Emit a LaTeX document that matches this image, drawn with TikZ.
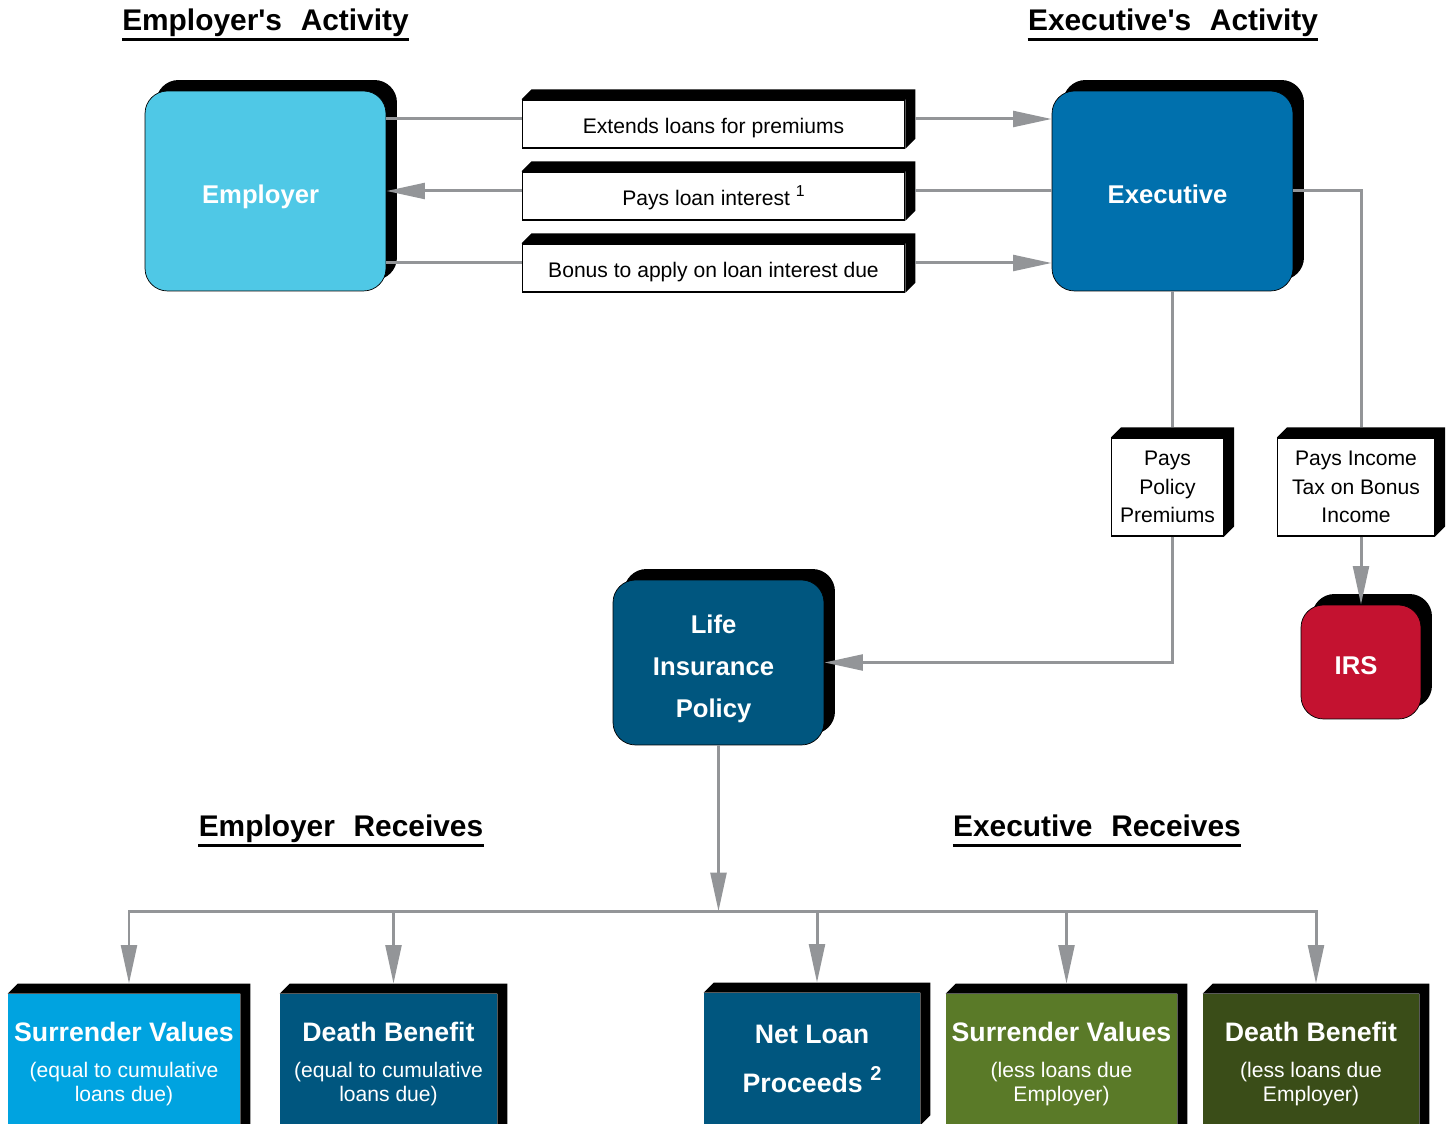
\documentclass[tikz,border=0pt]{standalone}
\usepackage{fontspec}
\setmainfont{Liberation Sans}
\usepackage{tikz}
\usetikzlibrary{arrows.meta,shadows}

\definecolor{employercyan}{HTML}{4FC8E6}
\definecolor{execblue}{HTML}{0070AD}
\definecolor{policyblue}{HTML}{00567F}
\definecolor{irsred}{HTML}{C41230}
\definecolor{svcyan}{HTML}{00A3E0}
\definecolor{svgreen}{HTML}{5A7A28}
\definecolor{dbgreen}{HTML}{3A4D18}
\definecolor{linkgray}{HTML}{939598}

\tikzset{
  party/.style={draw=black, rounded corners=0.45cm, text=white,
    font=\bfseries\fontsize{14.6}{24}\selectfont,
    general shadow={fill=black, shadow xshift=0.22cm, shadow yshift=0.22cm}},
  note/.style={draw=black, line width=0.6pt, fill=white, align=center, inner sep=0pt,
    font=\fontsize{12}{16.4}\selectfont},
  row/.style={note, minimum width=7.66cm, minimum height=0.96cm, text height=11.5pt, text depth=0.5pt},
  payout/.style={text=white, align=center, inner sep=0pt, minimum height=2.8cm,
    font=\bfseries\fontsize{15.2}{13.6}\selectfont},
  heading/.style={inner sep=0pt, anchor=base, text depth=4pt,
    font=\bfseries\fontsize{17}{20}\selectfont},
  link/.style={draw=linkgray, line width=1.7pt}
}

% black top and right faces of a slab
\newcommand{\extrude}[1]{%
  \fill[black] (#1.north west) -- ++(10,-10) -- ([shift={(10,-10)}]#1.north east)
    -- ([shift={(10,-10)}]#1.south east) -- (#1.south east) -- (#1.north east) -- cycle;}
\newcommand{\subline}{\mdseries\fontsize{12}{13.6}\selectfont}
\newcommand{\fnmark}[1]{\raisebox{0.42em}{\scalebox{0.75}{#1}}}
% text of the rounded boxes, set a little left and low
\newcommand{\partytext}[1]{\raisebox{-2.5pt}[\height][\depth]{\kern-2.8pt\begin{tabular}{@{}c@{}}#1\end{tabular}\kern2.8pt}}

\begin{document}
\begin{tikzpicture}[x=0.02cm,y=-0.02cm,>={Triangle[length=22pt,width=9pt]}]
  \useasboundingbox (0,0) rectangle (1448,1124);

  \node[heading] at (265.5,31) (hdemp) {Employer\textquotesingle s\hspace{0.35em} Activity};
  \node[heading] at (1173,31) (hdexe) {Executive\textquotesingle s\hspace{0.35em} Activity};
  \node[heading] at (341,837) (hdemprec) {Employer\hspace{0.35em} Receives};
  \node[heading] at (1097,837) (hdexerec) {Executive\hspace{0.35em} Receives};
  \foreach \h in {hdemp,hdexe,hdemprec,hdexerec}
    \draw[line width=1.7pt] ([yshift=-0.6pt]\h.south west) -- ([yshift=-0.6pt]\h.south east);

  \node[party, fill=employercyan, minimum width=4.82cm, minimum height=4cm] at (265.5,191) (emp) {\partytext{Employer}};
  \node[party, fill=execblue, minimum width=4.82cm, minimum height=4cm] at (1172.5,191) (exe) {\partytext{Executive}};
  \node[party, fill=policyblue, minimum width=4.22cm, minimum height=3.3cm] at (718.5,662.5) (pol) {\partytext{Life\\Insurance\\Policy}};
  \node[party, fill=irsred, minimum width=2.4cm, minimum height=2.28cm] at (1361,662) (irs) {\partytext{IRS}};

  \node[row] at (713.5,124) (loan) {Extends loans for premiums};
  \node[row] at (713.5,196) (interest) {Pays loan interest \fnmark{1}};
  \node[row] at (713.5,268) (bonus) {Bonus to apply on loan interest due};
  \node[note, minimum width=2.24cm, minimum height=1.96cm] at (1167.5,487) (premium) {Pays\\Policy\\Premiums};
  \node[note, minimum width=3.14cm, minimum height=1.96cm] at (1356,487) (tax) {Pays Income\\Tax on Bonus\\Income};

  \node[payout, fill=svcyan, minimum width=4.64cm] at (124,1064) (svemp) {Surrender Values\\[7.4pt]\subline (equal to cumulative\\\subline loans due)};
  \node[payout, fill=policyblue, minimum width=4.34cm] at (388.5,1064) (dbemp) {Death Benefit\\[7.4pt]\subline (equal to cumulative\\\subline loans due)};
  \node[payout, fill=policyblue, minimum width=4.32cm, minimum height=2.64cm] at (812,1059) (netloan) {Net Loan\\[12pt]Proceeds \fnmark{2}};
  \node[payout, fill=svgreen, minimum width=4.62cm] at (1061.5,1064) (svexe) {Surrender Values\\[7.4pt]\subline (less loans due\\\subline Employer)};
  \node[payout, fill=dbgreen, minimum width=4.32cm] at (1311,1064) (dbexe) {Death Benefit\\[7.4pt]\subline (less loans due\\\subline Employer)};

  \foreach \n in {loan,interest,bonus,premium,tax,svemp,dbemp,netloan,svexe,dbexe}
    \extrude{\n};

  \draw[link] ([shift={(0,-72)}]emp.east) -- ([shift={(0,-5)}]loan.west);
  \draw[link,->] ([shift={(10,-5)}]loan.east) -- ([shift={(0,-72)}]exe.west);
  \draw[link] (exe.west) -- ([shift={(10,-5)}]interest.east);
  \draw[link,->] ([shift={(0,-5)}]interest.west) -- (emp.east);
  \draw[link] ([shift={(0,72)}]emp.east) -- ([shift={(0,-5)}]bonus.west);
  \draw[link,->] ([shift={(10,-5)}]bonus.east) -- ([shift={(0,72)}]exe.west);

  \draw[link] (exe.south) -- ([shift={(5,-10)}]premium.north);
  \draw[link,->] ([shift={(5,0)}]premium.south) |- (pol.east);
  \draw[link] (exe.east) -| ([shift={(5,-10)}]tax.north);
  \draw[link,->] ([shift={(5,0)}]tax.south) -- (irs.north);

  \coordinate (bus) at ([shift={(0,166)}]pol.south);
  \draw[link,->] (pol.south) -- (bus);
  \foreach \n in {svemp,dbemp,netloan,svexe,dbexe}
    \draw[link,->] (bus) -| ([shift={(5,-10)}]\n.north);
\end{tikzpicture}
\end{document}
